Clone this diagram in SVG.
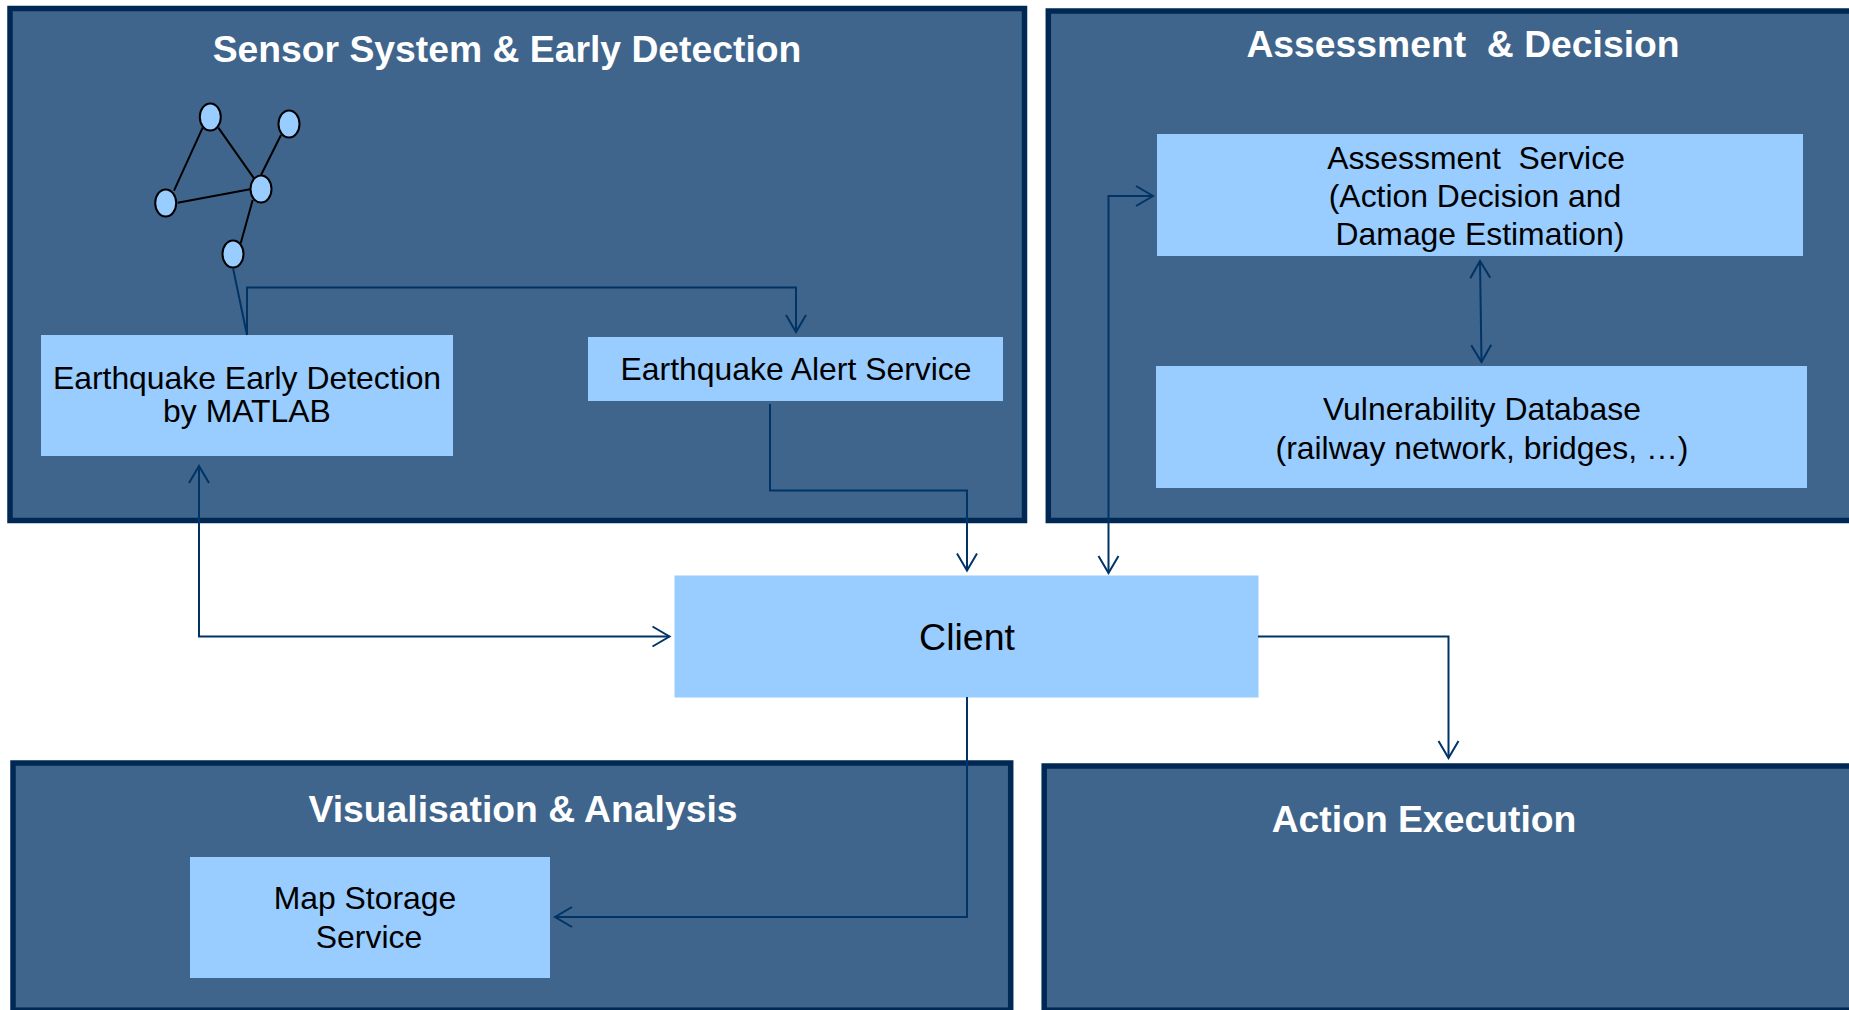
<svg xmlns="http://www.w3.org/2000/svg" width="1849" height="1010" viewBox="0 0 1849 1010">
<defs>
<style>
.panel{fill:#3f658c;stroke:#002855;stroke-width:5.500}
.box{fill:#99ccff}
.sensor{fill:#99ccff;stroke:#000;stroke-width:2}
.link{fill:none;stroke:#000;stroke-width:2}
.conn{fill:none;stroke:#003366;stroke-width:2}
text{font-family:"Liberation Sans",Arial,sans-serif;text-anchor:middle;white-space:pre}
.title{font-size:37.300px;font-weight:bold;fill:#fff}
.label{font-size:31.900px;fill:#000}
</style>
<marker id="arrow" markerUnits="userSpaceOnUse" markerWidth="24" markerHeight="26" refX="20" refY="12" orient="auto-start-reverse" viewBox="0 0 24 26"><path d="M3,2 L20,12 L3,22" fill="none" stroke="#003366" stroke-width="2"/></marker>
</defs>
<rect width="1849" height="1010" fill="#fff"/>
<g id="panel-sensor"><rect class="panel" x="10" y="8.500" width="1014.500" height="512"/><text class="title" x="507" y="61.500">Sensor System &amp; Early Detection</text></g>
<g id="panel-assessment"><rect class="panel" x="1048.300" y="11" width="810" height="509.500"/><text class="title" x="1463" y="56.500">Assessment  &amp; Decision</text></g>
<g id="panel-visual"><rect class="panel" x="13" y="763" width="997.700" height="247.200"/><text class="title" x="523" y="822">Visualisation &amp; Analysis</text></g>
<g id="panel-action"><rect class="panel" x="1044.200" y="766" width="810" height="244.200"/><text class="title" x="1424" y="832">Action Execution</text></g>
<g id="sensor-network">
<path class="link" d="M202.700,127.700L174,190.700M218.300,127.700L254,178.300M281,135L261,175M177.700,202.700L250,189.300M252.700,200L240.700,243.300"/>
<ellipse class="sensor" cx="210.300" cy="117" rx="10.500" ry="13.500"/>
<ellipse class="sensor" cx="289" cy="124" rx="10.500" ry="13.500"/>
<ellipse class="sensor" cx="261" cy="189" rx="10.500" ry="13.500"/>
<ellipse class="sensor" cx="165.700" cy="203" rx="10.500" ry="13.500"/>
<ellipse class="sensor" cx="233" cy="254" rx="10.500" ry="13.500"/>
</g>
<g id="node-detection"><rect class="box" x="41" y="335" width="412" height="121"/><text class="label" x="247" y="389">Earthquake Early Detection</text><text class="label" x="247" y="422">by MATLAB</text></g>
<g id="node-alert"><rect class="box" x="588" y="337" width="415" height="64"/><text class="label" x="796" y="380">Earthquake Alert Service</text></g>
<g id="node-assessment"><rect class="box" x="1157" y="134" width="646" height="122"/><text class="label" x="1476" y="169">Assessment  Service</text><text class="label" x="1475" y="207">(Action Decision and</text><text class="label" x="1480" y="245">Damage Estimation)</text></g>
<g id="node-vulnerability"><rect class="box" x="1156" y="366" width="651" height="122"/><text class="label" x="1482" y="420">Vulnerability Database</text><text class="label" x="1482" y="459">(railway network, bridges, …)</text></g>
<g id="node-client"><rect class="box" x="674.500" y="575.500" width="584" height="122"/><text class="label" style="font-size:37.500px" x="967" y="650">Client</text></g>
<g id="node-map"><rect class="box" x="190" y="857" width="360" height="121"/><text class="label" x="365" y="909">Map Storage</text><text class="label" x="369" y="948">Service</text></g>
<g id="connectors">
<path class="conn" d="M233,268L247,335"/>
<path class="conn" d="M247,335V287.500H796V332" marker-end="url(#arrow)"/>
<path class="conn" d="M770,404V490.500H967V570.500" marker-end="url(#arrow)"/>
<path class="conn" d="M199,466V636.500H669.500" marker-start="url(#arrow)" marker-end="url(#arrow)"/>
<path class="conn" d="M1108.500,573V196H1153" marker-start="url(#arrow)" marker-end="url(#arrow)"/>
<path class="conn" d="M1480,261L1481.500,362" marker-start="url(#arrow)" marker-end="url(#arrow)"/>
<path class="conn" d="M1258,636.500H1448.500V758" marker-end="url(#arrow)"/>
<path class="conn" d="M967,697V917H555" marker-end="url(#arrow)"/>
</g>
</svg>
